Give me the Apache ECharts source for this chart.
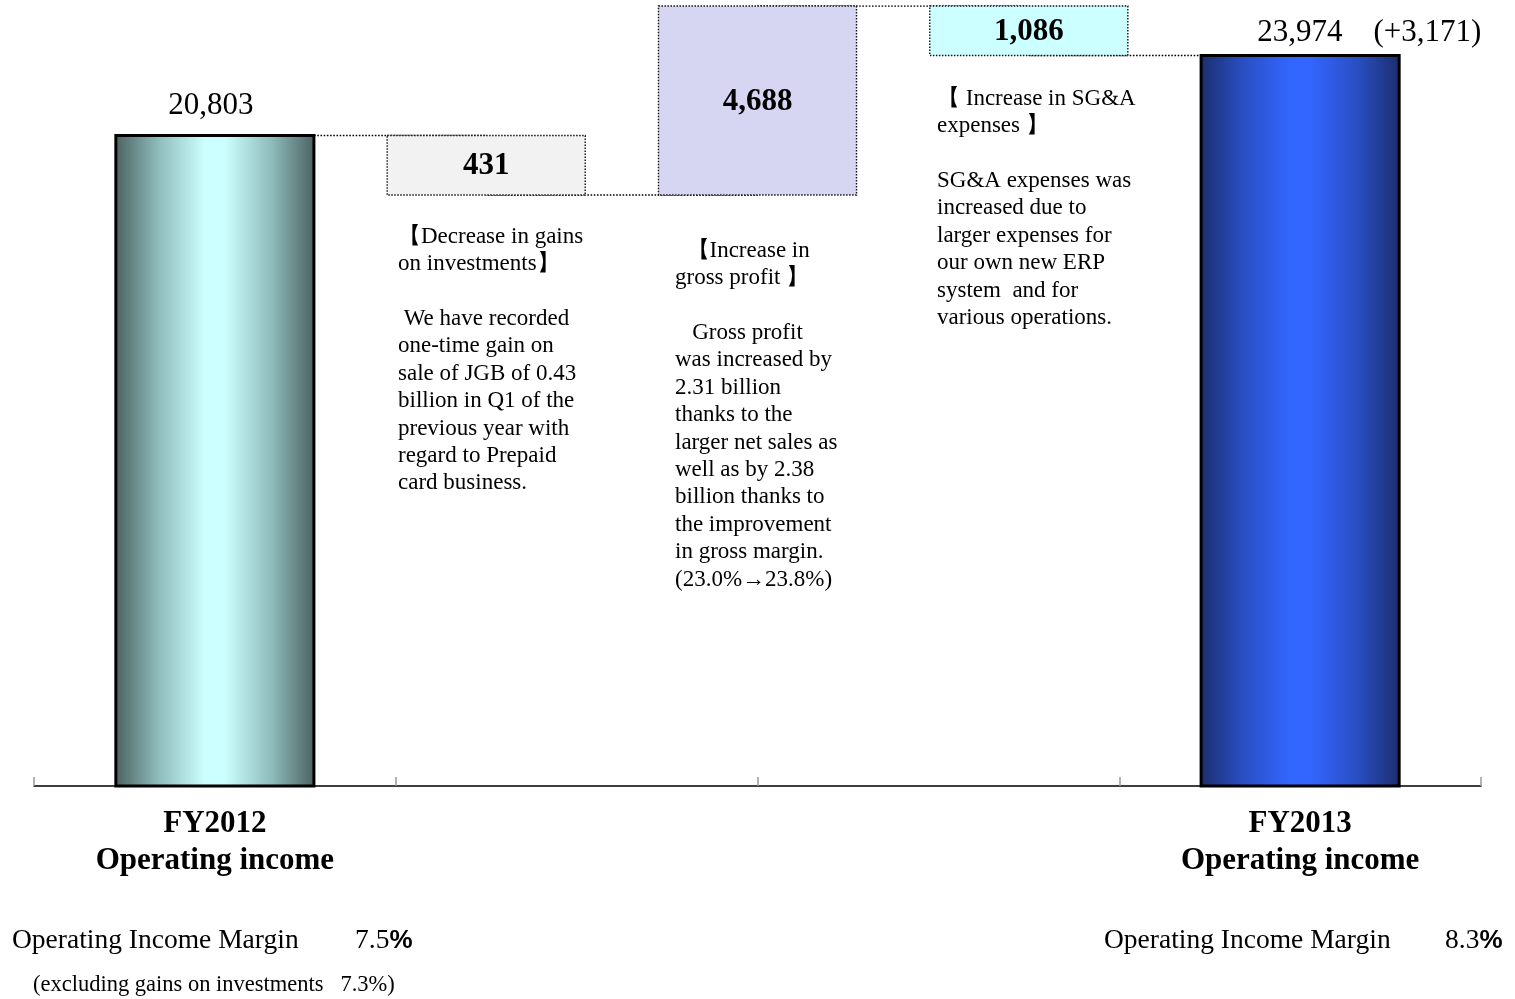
<!DOCTYPE html>
<html><head><meta charset="utf-8">
<script src="https://cdn.jsdelivr.net/npm/echarts@6/dist/echarts.min.js"></script>
<style>html,body{margin:0;padding:0;background:#fff}#c{width:1515px;height:999px}</style>
</head><body><div id="c"></div>
<script>
// ---- data ----
const axisCategories = ['FY2012\nOperating income', '', '', 'FY2013\nOperating income'];
const stepNames = ['FY2012', 'Decrease in gains on investments', 'Increase in gross profit', 'Increase in SG&A expenses', 'FY2013'];
const stepKinds = ['total', 'delta', 'delta', 'delta', 'total'];
const stepValues = [20803, -431, 4688, -1086, 23974];
const marginLeftLabel = 'Operating Income Margin';
const marginLeftValue = '7.5';
const marginLeftNote = '(excluding gains on investments   7.3%)';
const marginRightLabel = 'Operating Income Margin';
const marginRightValue = '8.3';
const note1 = ['【Decrease in gains', 'on investments】', '', ' We have recorded', 'one-time gain on', 'sale of JGB of 0.43', 'billion in Q1 of the', 'previous year with', 'regard to Prepaid', 'card business.'];
const note2 = ['  【Increase in', 'gross profit 】', '', '   Gross profit', 'was increased by', '2.31 billion', 'thanks to the', 'larger net sales as', 'well as by 2.38', 'billion thanks to', 'the improvement', 'in gross margin.', '(23.0%→23.8%)'];
const note3 = ['【 Increase in SG&A', 'expenses 】', '', 'SG&A expenses was', 'increased due to', 'larger expenses for', 'our own new ERP', 'system  and for', 'various operations.'];

// ---- waterfall computation ----
const bases = [], heights = [], levels = [];
let run = 0;
stepValues.forEach((v, i) => {
  if (stepKinds[i] === 'total') { bases.push(0); heights.push(v); run = v; }
  else { const nr = run + v; bases.push(Math.min(run, nr)); heights.push(Math.abs(v)); run = nr; }
  levels.push(run);
});
const boxData = stepValues.map((v, i) => [i, bases[i], bases[i] + heights[i]]);
const connector = [];
for (let i = 0; i < stepValues.length - 1; i++) { connector.push([i, levels[i]]); connector.push([i + 1, levels[i]]); }
const fmt = v => Math.abs(v).toLocaleString('en-US');

const SERIF = '"Liberation Serif","Times New Roman",serif';
const grad = (edge, mid, c) => new echarts.graphic.LinearGradient(0, 0, 1, 0, [
  {offset: 0, color: edge}, {offset: 0.22, color: mid}, {offset: 0.45, color: c},
  {offset: 0.55, color: c}, {offset: 0.78, color: mid}, {offset: 1, color: edge}]);
const totalFill = [grad('#4b6060', '#8fbcbc', '#ccffff'), grad('#1b2d6c', '#2a4fc4', '#3366ff')];
const deltaFill = ['#f2f2f2', '#d6d6f3', '#ccffff'];
const BAR_FRACTION = 0.73;

function renderBox(params, api) {
  const i = params.dataIndex;
  const x = api.value(0), lo = api.value(1), hi = api.value(2);
  const pTop = api.coord([x, hi]), pBot = api.coord([x, lo]);
  const w = api.size([1, 0])[0] * BAR_FRACTION;
  const isTotal = stepKinds[i] === 'total';
  const shape = { x: pTop[0] - w / 2, y: pTop[1], width: w, height: pBot[1] - pTop[1] };
  if (isTotal) {
    const first = i === 0;
    return {
      type: 'rect', shape,
      style: { fill: totalFill[first ? 0 : 1], stroke: '#000', lineWidth: 3 },
      textContent: { style: {
        text: first ? fmt(stepValues[i]) : fmt(stepValues[i]) + '    (+' + fmt(stepValues[i] - stepValues[0]) + ')',
        fontFamily: SERIF, fontSize: 31, fill: '#000', align: first ? 'center' : 'left' } },
      textConfig: { position: 'top', distance: first ? 13 : 6, offset: first ? [-4, 0] : [-43, 0] }
    };
  }
  return {
    type: 'rect', shape,
    style: { fill: deltaFill[i - 1], stroke: '#111', lineWidth: 1.4, lineDash: [1.5, 1.5] },
    textContent: { style: { text: fmt(stepValues[i]), fontFamily: SERIF, fontSize: 31, fontWeight: 'bold', fill: '#000' } },
    textConfig: { position: 'inside', offset: [0, 1] }
  };
}

const txt = (lines, x, y, size, lh) => ({
  type: 'text', left: x, top: y,
  style: { text: lines.join('\n'), fontFamily: SERIF, fontSize: size, lineHeight: lh, fill: '#000' }
});
const marginTxt = (label, val, x1, x2) => [
  { type: 'text', left: x1, top: 927, style: { text: label, fontFamily: SERIF, fontSize: 27.5, lineHeight: 28, fill: '#000' } },
  { type: 'text', left: x2, top: 927, style: {
      text: '{n|' + val + '}{p|%}', lineHeight: 28,
      rich: { n: { fontFamily: SERIF, fontSize: 27.5, fill: '#000' }, p: { fontFamily: '"Liberation Sans",Arial,sans-serif', fontWeight: 'bold', fontSize: 26, fill: '#000' } } } }
];

const chart = echarts.init(document.getElementById('c'));
chart.setOption({
  animation: false,
  backgroundColor: '#fff',
  grid: { left: 34, right: 34, top: 6, bottom: 213 },
  xAxis: [
    { type: 'category', data: axisCategories, boundaryGap: true,
      axisLine: { lineStyle: { color: '#000', width: 1.5 } },
      axisTick: { show: true, inside: true, length: 9, lineStyle: { color: '#999', width: 1.5 } },
      axisLabel: { margin: 19, fontFamily: SERIF, fontSize: 31, fontWeight: 'bold', lineHeight: 37, color: '#000', interval: 0 } },
    { type: 'value', min: -2 / 3, max: 14 / 3, show: false }
  ],
  yAxis: {
    type: 'value', min: 0, max: 25060, show: false,
    breaks: [
      { start: 200, end: 20200, gap: 3909 },
      { start: 21000, end: 23800, gap: 208.6 },
      { start: 24100, end: 24950, gap: 122.6 }
    ],
    breakArea: { show: false }
  },
  series: [
    { type: 'line', xAxisIndex: 1, data: connector, symbol: 'none', z: 1, silent: true,
      lineStyle: { color: '#000', width: 1.6, type: [1.6, 1.6] } },
    { type: 'custom', xAxisIndex: 1, name: 'Operating income', z: 3,
      encode: { x: 0, y: [1, 2] }, data: boxData, renderItem: renderBox }
  ],
  graphic: [
    txt(note1, 398, 223, 23, 27.4),
    txt(note2, 675, 237, 23, 27.4),
    txt(note3, 937, 85, 23, 27.4),
    ...marginTxt(marginLeftLabel, marginLeftValue, 12, 355),
    { type: 'text', left: 33, top: 974, style: { text: marginLeftNote, fontFamily: SERIF, fontSize: 22.5, lineHeight: 22, fill: '#000' } },
    ...marginTxt(marginRightLabel, marginRightValue, 1104, 1445)
  ]
});
</script></body></html>
